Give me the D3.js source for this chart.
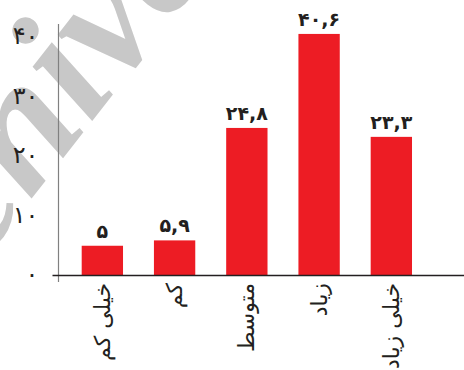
<!DOCTYPE html>
<html>
<head>
<meta charset="utf-8">
<script src="https://cdn.jsdelivr.net/npm/d3@7/dist/d3.min.js"></script>
<style>
  html, body { margin: 0; padding: 0; background: #fff; }
  svg { display: block; }
</style>
</head>
<body>
<svg id="chart" width="464" height="370"></svg>
<script>
// Response categories (Persian) and their percentages
const categories = ["خیلی کم", "کم", "متوسط", "زیاد", "خیلی زیاد"];
const values = [5, 5.9, 24.8, 40.6, 23.3];
const valueLabels = ["۵", "۵,۹", "۲۴,۸", "۴۰,۶", "۲۳,۳"];
const tickValues = [0, 10, 20, 30, 40];
const tickLabels = ["۰", "۱۰", "۲۰", "۳۰", "۴۰"];

const svg = d3.select("#chart");
const W = 464, H = 370;
const axisX = 58.5, baseY = 275.5;
const faFont = "'DejaVu Sans', sans-serif";

// Faint background watermark
svg.append("text")
  .attr("transform", "translate(-132,408) rotate(-52)")
  .attr("font-family", "Liberation Serif")
  .attr("font-style", "italic")
  .attr("font-weight", "bold")
  .attr("font-size", 175)
  .attr("fill", "#c8c8c8")
  .text("Archive");

const x = d3.scaleBand()
  .domain(categories)
  .range([axisX, 435.2])
  .paddingInner(0.428)
  .paddingOuter(0.321);

const y = d3.scaleLinear()
  .domain([0, 40])
  .range([baseY, 37.5]);

// Bars
svg.append("g")
  .selectAll("rect")
  .data(values)
  .join("rect")
  .attr("x", (d, i) => x(categories[i]))
  .attr("y", d => y(d))
  .attr("width", x.bandwidth())
  .attr("height", d => baseY - y(d))
  .attr("fill", "#ed1c24");

// Value labels above bars
svg.append("g")
  .selectAll("text")
  .data(values)
  .join("text")
  .attr("x", (d, i) => x(categories[i]) + x.bandwidth() / 2)
  .attr("y", d => y(d) - 8)
  .attr("text-anchor", "middle")
  .attr("font-family", faFont)
  .attr("font-weight", "bold")
  .attr("font-size", 19)
  .attr("fill", "#231f20")
  .text((d, i) => valueLabels[i]);

// Y axis: plain gray line with Persian tick labels
const yAxis = d3.axisLeft(y)
  .tickValues(tickValues)
  .tickSize(0)
  .tickPadding(20)
  .tickFormat((d, i) => tickLabels[i]);

const gy = svg.append("g")
  .attr("transform", `translate(${axisX},0)`)
  .call(yAxis);
gy.select(".domain").remove();
gy.selectAll("text")
  .attr("font-family", faFont)
  .attr("font-size", 24)
  .attr("fill", "#231f20")
  .attr("dy", "0.25em");

svg.append("line")
  .attr("x1", axisX).attr("x2", axisX)
  .attr("y1", 24).attr("y2", 282)
  .attr("stroke", "#808080")
  .attr("stroke-width", 1.2);

// X axis baseline
svg.append("line")
  .attr("x1", 52.5).attr("x2", W)
  .attr("y1", baseY).attr("y2", baseY)
  .attr("stroke", "#231f20")
  .attr("stroke-width", 1.3);

// Rotated category labels
svg.append("g")
  .selectAll("text")
  .data(categories)
  .join("text")
  .attr("transform", d => `translate(${x(d) + x.bandwidth() / 2},283) rotate(-90)`)
  .attr("text-anchor", "end")
  .attr("dominant-baseline", "central")
  .attr("font-family", faFont)
  .attr("font-size", 22)
  .attr("fill", "#231f20")
  .text(d => d);
</script>
</body>
</html>
